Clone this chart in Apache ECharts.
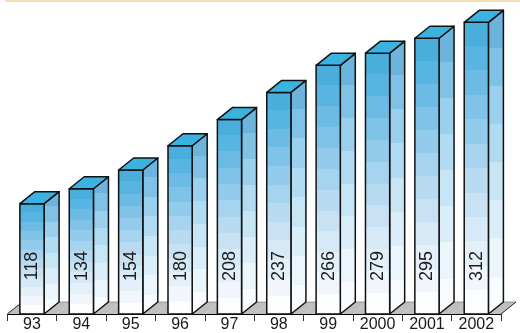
<!DOCTYPE html>
<html><head><meta charset="utf-8">
<script src="https://cdn.jsdelivr.net/npm/echarts@6/dist/echarts.min.js"></script>
<style>html,body{margin:0;padding:0;background:#fff}#c{width:520px;height:333px}</style>
</head><body><div id="c"></div>
<script>
const categories = ['93','94','95','96','97','98','99','2000','2001','2002'];
const values = [118,134,154,180,208,237,266,279,295,312];

const frontBands = ['#4aaedc','#58b4e0','#6cbbe4','#80c3e9','#93cbec','#a6d3ee','#b8dbf1','#c8e2f3','#d6e9f6','#e4f0f9','#f0f6fc','#fbfdff'];
const sideBands = ['#6cb4dc','#80c2e6','#9acfee','#b0dbf2','#c6e5f5','#d9eef8','#eaf6fb','#f8fcfe'];
function banded(cols){
  const stops=[]; const n=cols.length;
  cols.forEach((c,i)=>{stops.push({offset:i/n,color:c});stops.push({offset:(i+1)/n,color:c});});
  return new echarts.graphic.LinearGradient(0,0,0,1,stops);
}
const DX=15, DY=-12;
const chart = echarts.init(document.getElementById('c'),null,{renderer:'canvas'});
const data = values.map((v,i)=>[i,v]);
chart.setOption({
  animation:false,
  grid:{left:7.3,right:19,top:5.5,bottom:17},
  xAxis:{type:'category',data:categories,
    axisLine:{lineStyle:{color:'#000',width:1}},
    axisTick:{show:true,length:7,lineStyle:{color:'#333'}},
    axisLabel:{fontSize:16,color:'#1a1a1a',margin:3,fontFamily:'Liberation Sans'}},
  yAxis:{type:'value',min:0,max:330,show:false,splitLine:{show:false}},
  graphic:[{type:'line',shape:{x1:5,y1:1,x2:520,y2:1},style:{stroke:'#efd49c',lineWidth:1.5},z:10}],
  series:[
    {type:'custom',data:data,z:1,renderItem:function(params,api){
      const i=api.value(0); const b=api.coord([i,0]); const bw=api.size([1,0])[0];
      const xl=b[0]-bw/2, xr=b[0]+bw/2, y=b[1];
      const ch=[{type:'polygon',shape:{points:[[xl,y],[xl+DX,y+DY],[xr+DX,y+DY],[xr,y]]},style:{fill:'#bfbfbf',stroke:null}},
        {type:'line',shape:{x1:xl+DX,y1:y+DY,x2:xr+DX,y2:y+DY},style:{stroke:'#888',lineWidth:0.8}}];
      if(i===0) ch.push({type:'line',shape:{x1:xl,y1:y,x2:xl+DX,y2:y+DY},style:{stroke:'#222',lineWidth:1}});
      if(i===categories.length-1) ch.push({type:'line',shape:{x1:xr,y1:y,x2:xr+DX,y2:y+DY},style:{stroke:'#222',lineWidth:1}});
      return {type:'group',children:ch};
    }},
    {type:'custom',data:data,z:2,renderItem:function(params,api){
      const i=api.value(0), v=api.value(1);
      const b=api.coord([i,0]), t=api.coord([i,v]); const bw=api.size([1,0])[0];
      const w=bw*0.49; const x0=b[0]-w/2, x1=b[0]+w/2, yb=b[1], yt=t[1];
      const st={stroke:'#111',lineWidth:1.5,lineJoin:'round'};
      return {type:'group',children:[
        {type:'polygon',shape:{points:[[x1,yt],[x1+DX,yt+DY],[x1+DX,yb+DY],[x1,yb]]},style:Object.assign({fill:banded(sideBands)},st)},
        {type:'rect',shape:{x:x0,y:yt,width:w,height:yb-yt},style:Object.assign({fill:banded(frontBands)},st)},
        {type:'polygon',shape:{points:[[x0,yt],[x0+DX,yt+DY],[x1+DX,yt+DY],[x1,yt]]},style:Object.assign({fill:'#3bb3e1'},st)},
        {type:'text',x:b[0]+0.5,y:yb-48,rotation:Math.PI/2,style:{text:String(v),fontSize:18,fontFamily:'Liberation Sans',fill:'#1a1a1a',align:'center',verticalAlign:'middle'}}
      ]};
    }}
  ]
});
</script></body></html>
